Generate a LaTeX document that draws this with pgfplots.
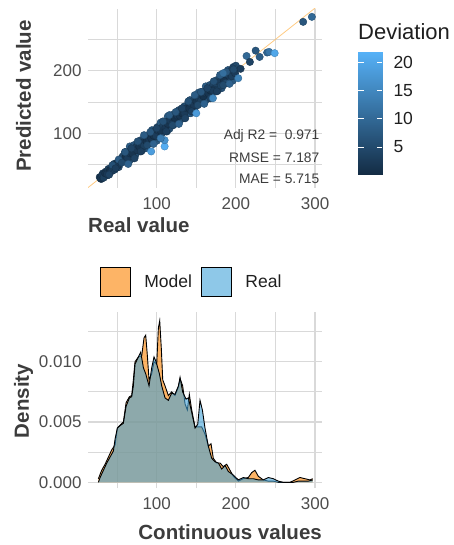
\documentclass[border=0pt]{standalone}
\usepackage{fontspec}
\setmainfont{Liberation Sans}
\usepackage{pgfplots}
\usepackage{pgfplotstable}
\pgfplotsset{compat=1.18}

\definecolor{tickc}{HTML}{4D4D4D}
\definecolor{titlec}{HTML}{3C3C3C}
\definecolor{gridc}{HTML}{D9D9D9}
\definecolor{modelc}{RGB}{252,130,0}
\definecolor{realc}{RGB}{67,163,217}
\definecolor{linec}{RGB}{255,190,100}

\pgfplotstableread{
x y c
28 30 2.9
30 27 3.6
32 36 4.3
34 33 2.2
36 39 3.6
38 33 5.0
40 41 2.2
42 44 2.9
44 40 4.3
46 51 5.0
48 47 2.2
50 53 3.6
52 46 5.7
54 54 1.5
56 60 4.3
58 56 2.9
60 70 8.5
62 55 6.4
64 64 1.5
66 79 10.6
68 59 7.8
70 73 3.6
72 71 2.2
74 81 6.4
76 80 4.3
78 72 5.7
80 89 7.8
82 79 3.6
84 91 6.4
86 76 8.5
88 90 2.9
90 95 5.0
92 84 7.1
94 105 9.2
96 94 2.9
98 104 5.7
100 88 9.9
102 103 2.2
104 112 7.1
106 101 5.0
108 118 8.5
110 103 6.4
112 112 1.5
114 127 10.6
116 107 7.8
118 121 3.6
120 119 2.2
122 129 6.4
124 128 4.3
126 120 5.7
128 137 7.8
130 127 3.6
132 139 6.4
134 124 8.5
136 138 2.9
138 143 5.0
140 132 7.1
142 153 9.2
144 142 2.9
146 152 5.7
148 136 9.9
150 151 2.2
152 160 7.1
154 149 5.0
156 166 8.5
158 151 6.4
160 160 1.5
162 175 10.6
164 155 7.8
166 169 3.6
168 167 2.2
170 177 6.4
172 176 4.3
174 168 5.7
176 185 7.8
178 175 3.6
180 187 6.4
182 172 8.5
184 186 2.9
186 191 5.0
188 180 7.1
190 201 9.2
192 190 2.9
194 200 5.7
196 184 9.9
198 199 2.2
200 208 7.1
29 28 2.2
31 33 2.9
33 29 4.3
35 36 2.2
37 35 2.9
39 43 4.3
41 41 1.5
43 40 3.6
45 48 3.6
47 42 5.0
49 50 2.2
51 49 2.9
53 57 4.3
55 54 2.2
57 63 5.7
59 56 3.6
61 62 2.2
63 70 6.4
65 55 8.5
67 71 4.3
69 67 2.9
71 81 8.5
73 65 7.1
75 80 5.0
77 75 2.9
79 84 5.0
81 72 7.8
83 86 3.6
85 80 5.0
87 95 7.1
89 88 2.2
91 84 6.4
93 99 5.7
95 84 9.2
97 99 2.9
99 95 4.3
101 110 7.8
103 100 3.6
105 117 9.9
107 101 5.7
109 110 2.2
111 118 6.4
113 103 8.5
115 119 4.3
117 115 2.9
119 129 8.5
121 113 7.1
123 128 5.0
125 123 2.9
127 132 5.0
129 120 7.8
131 134 3.6
133 128 5.0
135 143 7.1
137 136 2.2
139 132 6.4
141 147 5.7
143 132 9.2
145 147 2.9
147 143 4.3
149 158 7.8
151 148 3.6
153 165 9.9
155 149 5.7
157 158 2.2
159 166 6.4
161 151 8.5
163 167 4.3
165 163 2.9
167 177 8.5
169 161 7.1
171 176 5.0
173 171 2.9
175 180 5.0
177 168 7.8
179 182 3.6
181 176 5.0
183 191 7.1
185 184 2.2
187 180 6.4
189 195 5.7
191 180 9.2
193 195 2.9
195 191 4.3
197 206 7.8
199 196 3.6
60 60 1.5
63 60 3.6
66 68 2.9
69 68 2.2
72 76 4.3
75 73 2.9
78 79 2.2
81 84 3.6
84 80 4.3
87 87 1.5
90 92 2.9
93 92 2.2
96 96 1.5
99 96 3.6
102 104 2.9
105 104 2.2
108 112 4.3
111 109 2.9
114 115 2.2
117 120 3.6
120 116 4.3
123 123 1.5
126 128 2.9
129 128 2.2
132 132 1.5
135 132 3.6
138 140 2.9
141 140 2.2
144 148 4.3
147 145 2.9
150 151 2.2
153 156 3.6
156 152 4.3
159 159 1.5
162 164 2.9
165 164 2.2
168 168 1.5
171 168 3.6
}\scatterdata

\pgfplotstableread{
x y c
40 34 4
44 49 6
48 44 3
52 58 8
56 53 5
60 70 7
64 51 9
68 76 4
72 60 4
76 87 6
80 71 3
84 97 8
88 81 5
92 102 7
96 83 9
100 108 4
104 92 4
108 119 6
112 103 3
116 129 8
120 113 5
124 134 7
128 115 9
132 140 4
136 124 4
140 151 6
144 135 3
148 161 8
152 145 5
156 166 7
160 147 9
164 172 4
168 156 4
172 183 6
176 167 3
180 193 8
184 177 5
188 198 7
192 179 9
196 204 4
110 79 21.0
93 71 18.5
110 89 16.5
105 92 13.0
150 132 18.0
171 156 15.0
203 188 14.0
184 196 11.0
197 202 5.0
206 203 3.0
213.5 223.5 10.0
217.7 214 4.0
225 232 7.0
230 222 8.0
239.5 229 9.0
242 230 12.0
249 228 20.0
285 278 7.0
296 286 10.0
}\scatterextra

\pgfplotstableread{
x y
26.3 0.0003
30.5 0.0010
34.8 0.0015
39.0 0.0021
43.2 0.0027
47.4 0.0031
50.3 0.0045
54.5 0.0048
57.9 0.0050
61.3 0.0066
65.5 0.0071
68.4 0.0072
70.5 0.0085
72.6 0.0100
76.9 0.0104
81.1 0.0105
84.0 0.0120
86.1 0.0122
88.2 0.0105
90.3 0.0085
93.7 0.0090
96.6 0.0100
100.0 0.0098
102.1 0.0128
103.8 0.0134
105.9 0.0110
107.6 0.0085
110.5 0.0080
114.7 0.0072
118.9 0.0075
123.1 0.0072
127.4 0.0079
129.5 0.0086
132.8 0.0080
135.8 0.0065
138.7 0.0060
141.2 0.0073
144.2 0.0060
148.4 0.0046
152.6 0.0046
156.8 0.0046
161.0 0.0040
165.2 0.0030
168.6 0.0032
171.5 0.0020
175.7 0.0016
180.0 0.0016
184.2 0.0013
188.4 0.0015
192.6 0.0010
196.8 0.0005
203.1 0.0001
209.4 0.0003
215.7 0.0004
219.9 0.0008
224.1 0.0010
228.4 0.0005
234.7 0.0002
241.0 0.0001
247.3 0.0001
253.6 0.0000
259.9 0.0000
268.4 0.0000
274.7 0.0002
281.0 0.0004
287.3 0.0003
293.6 0.0002
297.0 0.0003
}\modeldata

\pgfplotstableread{
x y
26.3 0.0000
28.5 0.0004
32.7 0.0010
36.9 0.0016
41.1 0.0021
45.3 0.0026
47.4 0.0036
50.3 0.0045
53.7 0.0047
57.9 0.0049
61.3 0.0063
65.5 0.0070
68.4 0.0071
70.5 0.0080
72.6 0.0098
76.9 0.0104
79.8 0.0108
83.2 0.0095
86.1 0.0090
90.3 0.0080
93.7 0.0095
96.6 0.0104
99.2 0.0100
103.4 0.0090
106.3 0.0080
110.5 0.0070
114.7 0.0068
118.9 0.0074
123.1 0.0073
127.4 0.0080
129.5 0.0087
132.8 0.0075
137.0 0.0069
140.0 0.0070
144.2 0.0058
148.4 0.0045
151.8 0.0048
154.7 0.0068
157.7 0.0060
161.0 0.0045
165.2 0.0030
169.4 0.0020
173.7 0.0017
177.9 0.0016
182.1 0.0011
186.3 0.0014
190.5 0.0009
196.8 0.0006
203.1 0.0002
209.4 0.0004
215.7 0.0003
222.0 0.0003
228.4 0.0002
234.7 0.0002
241.0 0.0004
247.3 0.0003
253.6 0.0001
259.9 0.0000
272.6 0.0000
278.9 0.0001
285.2 0.0001
291.5 0.0001
297.0 0.0002
}\realdata

\pgfplotstableread{
x y c
0 0.06 0.06
1 0.06 0.06
1 21.8 21.8
0 21.8 21.8
}\colorbardata

\begin{document}
\begin{tikzpicture}
\useasboundingbox (0bp,0bp) rectangle (454bp,545bp);
\pgfplotsset{
  colormap={dev}{rgb255=(19,43,67) rgb255=(86,177,247)},
  common/.style={
    scale only axis, width=234bp,
    axis line style={draw=none},
    major tick length=0pt, minor tick length=0pt,
    grid=both,
    major grid style={gridc, line width=1.1bp},
    minor grid style={gridc, line width=0.8bp},
    tick label style={font=\fontsize{17bp}{17bp}\selectfont, text=tickc, inner sep=0pt},
    xticklabel style={anchor=north, yshift=-9bp},
    yticklabel style={anchor=east, xshift=-6.3bp},
    label style={font=\bfseries\fontsize{20.5bp}{20.5bp}\selectfont, text=titlec, inner sep=0pt},
    /pgf/number format/assume math mode=true,
    xmin=13.2, xmax=308.8,
    xtick={100,200,300}, minor xtick={50,150,250},
  }
}
\begin{axis}[common, at={(88bp,357bp)}, anchor=south west, height=179.4bp,
  ymin=12.6, ymax=299.2, ytick={100,200}, minor ytick={50,150,250},
  xlabel={Real value}, ylabel={Predicted value},
  xlabel style={at={(axis description cs:0,-0.206)}, anchor=west},
  ylabel style={at={(axis description cs:-0.2756,0.513)}, anchor=center},
  point meta min=0.06, point meta max=21.8,
]
\addplot[scatter, only marks, mark=*, mark size=3.7bp, scatter src=explicit] table[x=x,y=y,meta expr=0.75*\thisrow{c}]{\scatterdata};
\addplot[scatter, only marks, mark=*, mark size=3.7bp, scatter src=explicit] table[x=x,y=y,meta=c]{\scatterextra};
\addplot[linec, line width=0.8bp, opacity=0.8] coordinates {(0,0) (320,320)};
\node[anchor=base east, font=\fontsize{13.8bp}{13.8bp}\selectfont, text=titlec, inner sep=0pt] at (axis cs:305.7,89.9) {Adj R2 = \ 0.971};
\node[anchor=base east, font=\fontsize{13.8bp}{13.8bp}\selectfont, text=titlec, inner sep=0pt] at (axis cs:305.7,53.5) {RMSE = 7.187};
\node[anchor=base east, font=\fontsize{13.8bp}{13.8bp}\selectfont, text=titlec, inner sep=0pt] at (axis cs:305.7,19.6) {MAE = 5.715};
\end{axis}

% colour bar
\begin{axis}[at={(358bp,370bp)}, anchor=south west, scale only axis, width=24bp, height=123bp,
  xmin=0, xmax=1, ymin=0.06, ymax=21.8,
  axis line style={draw=none}, axis on top,
  xtick=\empty, ytick={5,10,15,20},
  ytick pos=both, yticklabel pos=right,
  tick align=inside, major tick length=5.5bp,
  ytick style={draw=white, line width=0.9bp},
  yticklabel style={font=\fontsize{17.5bp}{17.5bp}\selectfont, text=black!88, anchor=west, inner sep=0pt, xshift=11.3bp},
  /pgf/number format/assume math mode=true,
  point meta min=0.06, point meta max=21.8,
]
\addplot[patch, patch type=rectangle, shader=interp, point meta=\thisrow{c}] table[x=x,y=y]{\colorbardata};
\end{axis}
\node[anchor=west, inner sep=0pt, font=\fontsize{22bp}{22bp}\selectfont, text=black!88] at (358bp,513.3bp) {Deviation};

\begin{axis}[common, at={(88bp,57bp)}, anchor=south west, height=176.3bp,
  ymin=-0.00047, ymax=0.01415, ytick={0,0.005,0.01}, yticklabels={0.000,0.005,0.010},
  minor ytick={0.0025,0.0075,0.0125}, scaled y ticks=false,
  xlabel={Continuous values}, ylabel={Density},
  xlabel style={at={(axis description cs:1,-0.248)}, anchor=east},
  ylabel style={at={(axis description cs:-0.2756,0.4935)}, anchor=center},
  legend style={at={(0.0513,1.1685)}, anchor=west, draw=none, fill=none, inner sep=0pt, outer sep=0pt,
    font=\fontsize{17.5bp}{17.5bp}\selectfont, text=black!88,
    /tikz/every even column/.append style={column sep=7bp},
    /tikz/every odd column/.append style={column sep=12bp}},
  legend columns=2,
  legend image code/.code={\draw[#1, draw=black, line width=0.9bp] (0bp,-14.5bp) rectangle (29.5bp,14.5bp);},
]
\addplot[fill=modelc, fill opacity=0.6, draw=none, forget plot] table[x=x,y=y]{\modeldata} \closedcycle;
\addplot[black, line width=0.9bp, forget plot] table[x=x,y=y]{\modeldata};
\addplot[fill=realc, fill opacity=0.6, draw=none, forget plot] table[x=x,y=y]{\realdata} \closedcycle;
\addplot[black, line width=0.9bp, forget plot] table[x=x,y=y]{\realdata};
\addlegendimage{fill=modelc, fill opacity=0.6}
\addlegendentry{Model}
\addlegendimage{fill=realc, fill opacity=0.6}
\addlegendentry{Real}
\end{axis}
\end{tikzpicture}
\end{document}
